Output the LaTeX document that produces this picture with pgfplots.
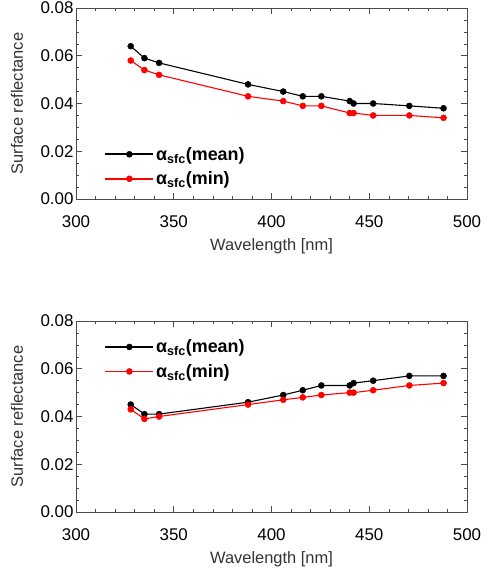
\documentclass[border=0pt]{standalone}
\usepackage{pgfplots}
\pgfplotsset{compat=1.18}
\usepackage{fontspec}
\setmainfont{Liberation Sans}

\pgfplotstableread{
x mean min
328 0.064 0.058
335 0.059 0.054
342.5 0.057 0.052
388 0.048 0.043
406 0.045 0.041
416 0.043 0.039
425.5 0.043 0.039
440 0.041 0.036
442 0.040 0.036
452 0.040 0.035
470.5 0.039 0.035
488 0.038 0.034
}\toptable

\pgfplotstableread{
x mean min
328 0.045 0.043
335 0.041 0.039
342.5 0.041 0.040
388 0.046 0.045
406 0.049 0.047
416 0.051 0.048
425.5 0.053 0.049
440 0.053 0.050
442 0.054 0.050
452 0.055 0.051
470.5 0.057 0.053
488 0.057 0.054
}\bottable

\pgfplotsset{
  refax/.style={
    scale only axis,
    width=391bp, height=191bp,
    xmin=300, xmax=500, ymin=0, ymax=0.08,
    xtick={300,350,...,500},
    ytick={0,0.02,...,0.08},
    minor x tick num=4,
    minor y tick num=3,
    tick align=inside,
    major tick length=6bp,
    minor tick length=3bp,
    axis line style={line width=0.8pt, black!70},
    every tick/.style={black!70, line width=0.6pt},
    xtick pos=both, ytick pos=both,
    /pgf/number format/assume math mode=true,
    /pgf/number format/.cd, fixed, fixed zerofill, precision=2, /pgfplots/.cd,
    xticklabel style={/pgf/number format/precision=0, /pgf/number format/fixed zerofill=false, font=\fontsize{17}{19}\selectfont, anchor=center, yshift=-23bp},
    yticklabel style={font=\fontsize{17}{19}\selectfont, anchor=east, xshift=1bp},
    scaled y ticks=false,
    xlabel={Wavelength [nm]},
    ylabel={Surface reflectance},
    label style={font=\fontsize{16.5}{19}\selectfont, text=black!80},
    xlabel style={at={(axis description cs:0.5,-0.246)}, anchor=center},
    ylabel style={at={(axis description cs:-0.151,0.5)}, anchor=center},
    legend cell align=left,
    legend style={draw=none, fill=none, font=\fontsize{18}{20}\selectfont\bfseries, row sep=6bp},
    legend image code/.code={\draw[mark repeat=2,mark phase=2,#1,line width=1.6pt] plot coordinates {(0bp,0bp) (24bp,0bp) (48bp,0bp)};},
  },
  meanline/.style={black, line width=1.1pt, mark=*, mark size=3bp, mark options={line width=0.5pt}},
  minline/.style={red, line width=1.1pt, mark=*, mark size=3bp, mark options={fill=red, draw=red, line width=0.5pt}},
}

\begin{document}
\begin{tikzpicture}
\useasboundingbox (0bp,0bp) rectangle (493bp,576bp);
\begin{axis}[refax, at={(76bp,377bp)}, anchor=south west,
  legend style={at={(axis description cs:0.065,0.17)}, anchor=west}]
\addplot[meanline] table[x=x,y=mean] {\toptable};
\addlegendentry{α\textsubscript{sfc}(mean)}
\addplot[minline] table[x=x,y=min] {\toptable};
\addlegendentry{α\textsubscript{sfc}(min)}
\end{axis}
\begin{axis}[refax, at={(76bp,64bp)}, anchor=south west,
  legend style={at={(axis description cs:0.065,0.80)}, anchor=west}]
\addplot[meanline] table[x=x,y=mean] {\bottable};
\addlegendentry{α\textsubscript{sfc}(mean)}
\addplot[minline] table[x=x,y=min] {\bottable};
\addlegendentry{α\textsubscript{sfc}(min)}
\end{axis}
\end{tikzpicture}
\end{document}
